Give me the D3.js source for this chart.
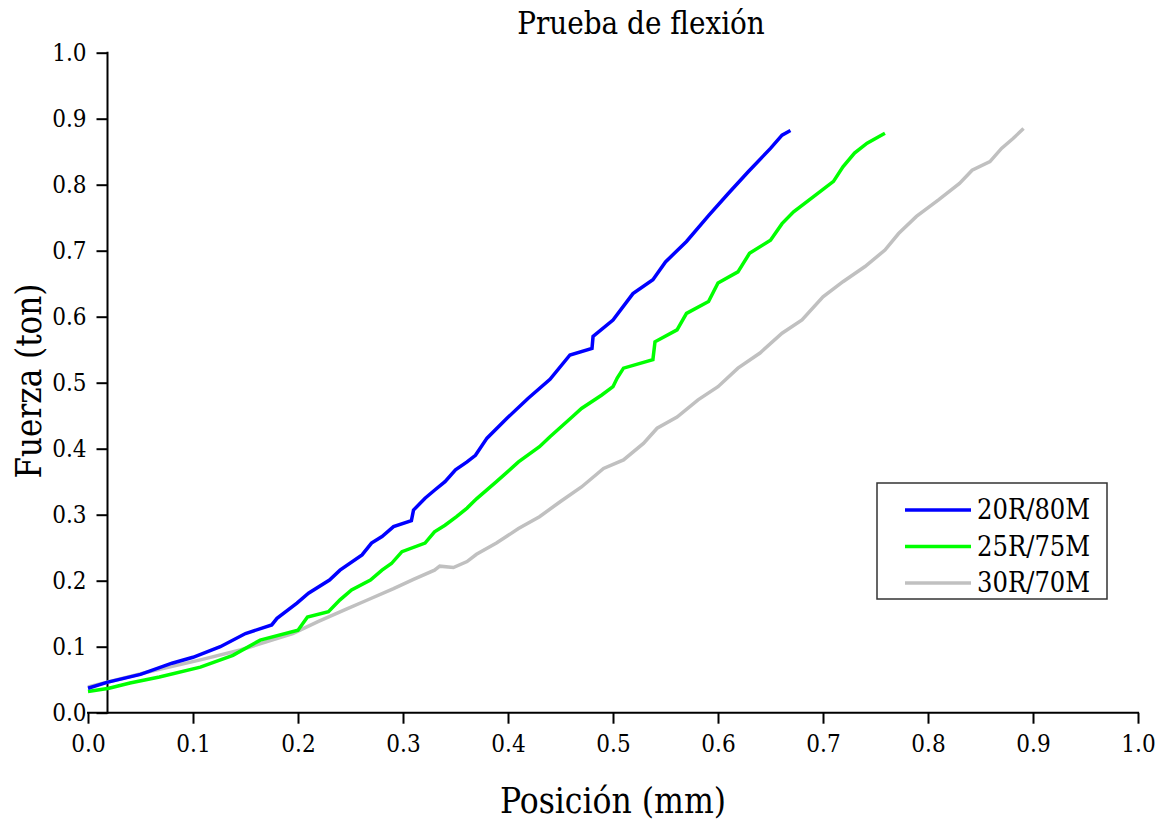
<!DOCTYPE html>
<html>
<head>
    <meta charset="utf-8">
    <title>Prueba de flexión</title>
    <style>
        body { margin: 0; background: #ffffff; }
        svg { display: block; }
        text { font-family: "DejaVu Serif Condensed", "DejaVu Serif", serif; font-stretch: condensed; fill: #000; }
    </style>
    <script src="https://d3js.org/d3.v7.min.js"></script>
</head>
<body>
<script type="application/javascript">
  // posicion (mm), fuerza (ton)
  var nombres = ["20R/80M", "25R/75M", "30R/70M"];
  var colores = ["#0000ff", "#00ff00", "#c0c0c0"];

  var serie20R = [
    [0.000, 0.037], [0.018, 0.046], [0.050, 0.058], [0.080, 0.075], [0.100, 0.084],
    [0.126, 0.100], [0.150, 0.120], [0.175, 0.133], [0.180, 0.143], [0.199, 0.166],
    [0.210, 0.181], [0.230, 0.201], [0.240, 0.216], [0.261, 0.239], [0.270, 0.257],
    [0.280, 0.267], [0.291, 0.282], [0.308, 0.291], [0.310, 0.307], [0.321, 0.325],
    [0.330, 0.337], [0.340, 0.350], [0.350, 0.368], [0.361, 0.380], [0.369, 0.390],
    [0.380, 0.416], [0.399, 0.446], [0.419, 0.476], [0.440, 0.505], [0.459, 0.542],
    [0.480, 0.552], [0.481, 0.570], [0.500, 0.595], [0.519, 0.635], [0.538, 0.656],
    [0.550, 0.683], [0.570, 0.714], [0.591, 0.753], [0.610, 0.787], [0.629, 0.820],
    [0.650, 0.855], [0.661, 0.875], [0.669, 0.882]
  ];
  var serie25R = [
    [0.000, 0.032], [0.020, 0.037], [0.040, 0.045], [0.068, 0.054], [0.107, 0.069],
    [0.138, 0.087], [0.164, 0.110], [0.200, 0.125], [0.209, 0.145], [0.229, 0.153],
    [0.240, 0.171], [0.251, 0.186], [0.269, 0.201], [0.280, 0.216], [0.289, 0.226],
    [0.299, 0.244], [0.321, 0.257], [0.330, 0.274], [0.340, 0.284], [0.351, 0.297],
    [0.361, 0.310], [0.370, 0.324], [0.389, 0.350], [0.410, 0.380], [0.430, 0.403],
    [0.440, 0.418], [0.461, 0.448], [0.470, 0.461], [0.489, 0.481], [0.500, 0.494],
    [0.504, 0.507], [0.510, 0.522], [0.538, 0.535], [0.540, 0.562], [0.561, 0.580],
    [0.570, 0.605], [0.591, 0.623], [0.600, 0.651], [0.619, 0.668], [0.630, 0.696],
    [0.650, 0.716], [0.661, 0.741], [0.672, 0.759], [0.691, 0.782], [0.710, 0.805],
    [0.719, 0.827], [0.730, 0.848], [0.742, 0.863], [0.759, 0.878]
  ];
  var serie30R = [
    [0.000, 0.039], [0.020, 0.047], [0.058, 0.062], [0.107, 0.080], [0.145, 0.095],
    [0.195, 0.120], [0.219, 0.138], [0.246, 0.157], [0.265, 0.170], [0.291, 0.188],
    [0.310, 0.202], [0.330, 0.216], [0.335, 0.222], [0.348, 0.220], [0.361, 0.229],
    [0.370, 0.240], [0.389, 0.257], [0.410, 0.279], [0.430, 0.297], [0.450, 0.320],
    [0.470, 0.342], [0.491, 0.370], [0.510, 0.383], [0.529, 0.408], [0.542, 0.431],
    [0.561, 0.448], [0.581, 0.474], [0.600, 0.494], [0.619, 0.522], [0.640, 0.545],
    [0.661, 0.575], [0.680, 0.595], [0.700, 0.630], [0.719, 0.653], [0.740, 0.676],
    [0.759, 0.701], [0.772, 0.726], [0.789, 0.752], [0.810, 0.777], [0.830, 0.802],
    [0.842, 0.822], [0.859, 0.835], [0.870, 0.855], [0.881, 0.870], [0.891, 0.885]
  ];
  var series = [serie20R, serie25R, serie30R];

  var ticksMayores = [0, 0.1, 0.2, 0.3, 0.4, 0.5, 0.6, 0.7, 0.8, 0.9, 1.0];
  var ticksMenores = [0.05, 0.15, 0.25, 0.35, 0.45, 0.55, 0.65, 0.75, 0.85, 0.95];

  var w = 1162;
  var h = 822;
  var x0 = 88, x1 = 1138, y0 = 712.7, y1 = 52.7;
  var ejeYpos = 107.5;

  var svg = d3.select("body")
              .append("svg")
              .attr("width", w)
              .attr("height", h);

  var xscale = d3.scaleLinear().domain([0, 1]).range([x0, x1]);
  var yscale = d3.scaleLinear().domain([0, 1]).range([y0, y1]);

  // eje X
  var ejeX = svg.append("g").attr("transform", "translate(0," + y0 + ")");
  ejeX.call(d3.axisBottom(xscale).tickValues(ticksMenores).tickSize(6).tickFormat(""));
  ejeX.call(d3.axisBottom(xscale).tickValues(ticksMayores).tickSize(11).tickPadding(11)
                                  .tickFormat(d3.format(".1f")));
  ejeX.selectAll("path.domain").remove();
  ejeX.append("line")
      .attr("x1", x0 - 1).attr("x2", x1 + 1)
      .attr("stroke", "#000").attr("stroke-width", 2);

  // eje Y
  var ejeY = svg.append("g").attr("transform", "translate(" + ejeYpos + ",0)");
  ejeY.call(d3.axisLeft(yscale).tickValues(ticksMenores).tickSize(6).tickFormat(""));
  ejeY.call(d3.axisLeft(yscale).tickValues(ticksMayores).tickSize(11).tickPadding(10)
                                .tickFormat(d3.format(".1f")));
  ejeY.selectAll("path.domain").remove();
  ejeY.append("line")
      .attr("y1", y0 + 1).attr("y2", y1 - 1)
      .attr("stroke", "#000").attr("stroke-width", 2);

  svg.selectAll(".tick line").attr("stroke", "#000").attr("stroke-width", 2);
  svg.selectAll(".tick text")
     .style("font-family", "DejaVu Serif Condensed, DejaVu Serif")
     .style("font-size", "24px")
     .attr("fill", "#000");

  // lineas
  var linea = d3.line()
                .x(function (d) { return xscale(d[0]); })
                .y(function (d) { return yscale(d[1]); });

  svg.selectAll("path.serie")
     .data(series.slice().reverse())
     .enter()
     .append("path")
     .attr("class", "serie")
     .attr("d", linea)
     .attr("fill", "none")
     .attr("stroke", function (d, i) { return colores[2 - i]; })
     .attr("stroke-width", 3.5)
     .attr("stroke-linejoin", "miter");

  // titulos
  svg.append("text")
     .attr("x", 641).attr("y", 34)
     .attr("text-anchor", "middle")
     .style("font-size", "31px")
     .text("Prueba de flexión");

  svg.append("text")
     .attr("x", 613).attr("y", 813)
     .attr("text-anchor", "middle")
     .style("font-size", "35px")
     .text("Posición (mm)");

  svg.append("text")
     .attr("transform", "translate(41,381) rotate(-90)")
     .attr("text-anchor", "middle")
     .style("font-size", "34.5px")
     .text("Fuerza (ton)");

  // leyenda
  var leyenda = svg.append("g").attr("transform", "translate(877,483)");
  leyenda.append("rect")
         .attr("width", 230).attr("height", 116)
         .attr("fill", "#fff").attr("stroke", "#333").attr("stroke-width", 1.5);

  var item = leyenda.selectAll("g.item")
                    .data(nombres)
                    .enter()
                    .append("g")
                    .attr("class", "item")
                    .attr("transform", function (d, i) { return "translate(0," + (27 + i * 36.5) + ")"; });
  item.append("line")
      .attr("x1", 28).attr("x2", 94)
      .attr("stroke", function (d, i) { return colores[i]; })
      .attr("stroke-width", 3.5);
  item.append("text")
      .attr("x", 100).attr("y", 9)
      .style("font-size", "27px")
      .text(function (d) { return d; });
</script>
</body>
</html>
